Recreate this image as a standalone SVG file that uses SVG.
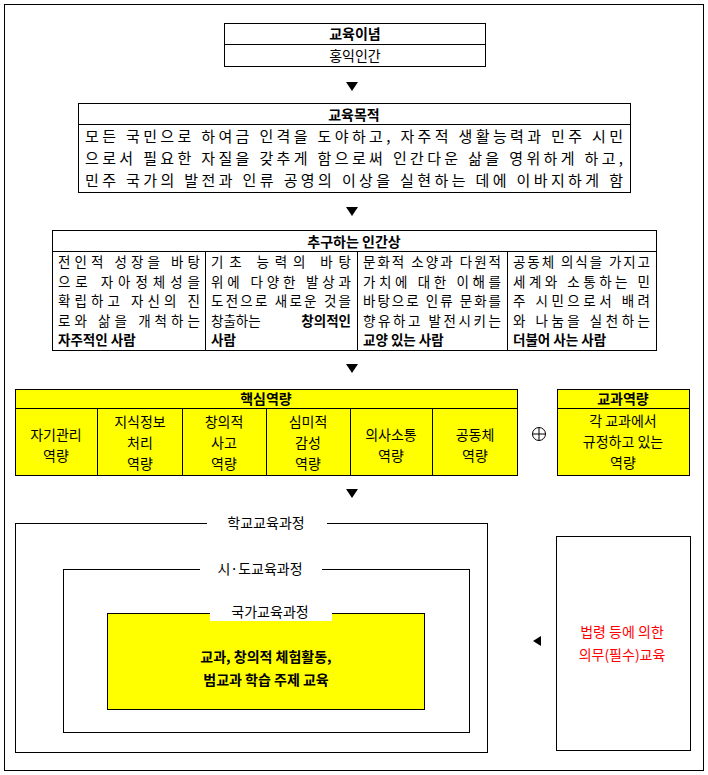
<svg xmlns="http://www.w3.org/2000/svg" width="708" height="775" viewBox="0 0 708 775">
<style>
text{font-family:"Noto Sans CJK KR","Noto Sans",sans-serif;font-size:14px;fill:#000}
.b{font-weight:bold}
.c{text-anchor:middle}
.s{font-size:13.5px}
.box{fill:#fff;stroke:#000;stroke-width:1}
.y{fill:#ffff00;stroke:#000;stroke-width:1}
.ln{stroke:#000;stroke-width:1}
</style>
<rect x="4.5" y="4.5" width="699" height="766" fill="none" stroke="#000"/>
<g id="ideal">
<rect class="box" x="224.5" y="23.5" width="261" height="43"/>
<line class="ln" x1="224" y1="44.5" x2="485" y2="44.5"/>
<text class="c b" x="355" y="39">교육이념</text>
<text class="c" x="355" y="61">홍익인간</text>
</g>
<g id="purpose">
<rect class="box" x="78.5" y="103.5" width="552" height="89"/>
<line class="ln" x1="78" y1="124.5" x2="630" y2="124.5"/>
<text class="c b" x="354" y="120">교육목적</text>
<text x="85" y="142" style="font-size:15px" textLength="538" lengthAdjust="spacing">모든 국민으로 하여금 인격을 도야하고, 자주적 생활능력과 민주 시민</text>
<text x="85" y="164" style="font-size:15px" textLength="538" lengthAdjust="spacing">으로서 필요한 자질을 갖추게 함으로써 인간다운 삶을 영위하게 하고,</text>
<text x="85" y="186" style="font-size:15px" textLength="538" lengthAdjust="spacing">민주 국가의 발전과 인류 공영의 이상을 실현하는 데에 이바지하게 함</text>
</g>
<g id="human">
<rect class="box" x="52.5" y="230.5" width="604" height="120"/>
<line class="ln" x1="52" y1="251.5" x2="656" y2="251.5"/>
<line class="ln" x1="205.5" y1="251" x2="205.5" y2="350"/>
<line class="ln" x1="357.5" y1="251" x2="357.5" y2="350"/>
<line class="ln" x1="507.5" y1="251" x2="507.5" y2="350"/>
<text class="c b" x="354" y="247">추구하는 인간상</text>
<text class="s" x="58" y="267" textLength="142">전인적 성장을 바탕</text>
<text class="s" x="58" y="286.5" textLength="142">으로 자아정체성을</text>
<text class="s" x="58" y="306" textLength="142">확립하고 자신의 진</text>
<text class="s" x="58" y="325.5" textLength="142">로와 삶을 개척하는</text>
<text class="s b" x="58" y="345">자주적인 사람</text>
<text class="s" x="211" y="267" textLength="140">기초 능력의 바탕</text>
<text class="s" x="211" y="286.5" textLength="140">위에 다양한 발상과</text>
<text class="s" x="211" y="306" textLength="140">도전으로 새로운 것을</text>
<text class="s" x="211" y="325.5">창출하는</text>
<text class="s b" x="351" y="325.5" text-anchor="end">창의적인</text>
<text class="s b" x="211" y="345">사람</text>
<text class="s" x="363" y="267" textLength="138">문화적 소양과 다원적</text>
<text class="s" x="363" y="286.5" textLength="138">가치에 대한 이해를</text>
<text class="s" x="363" y="306" textLength="138">바탕으로 인류 문화를</text>
<text class="s" x="363" y="325.5" textLength="138">향유하고 발전시키는</text>
<text class="s b" x="363" y="345">교양 있는 사람</text>
<text class="s" x="513" y="267" textLength="137">공동체 의식을 가지고</text>
<text class="s" x="513" y="286.5" textLength="137">세계와 소통하는 민</text>
<text class="s" x="513" y="306" textLength="137">주 시민으로서 배려</text>
<text class="s" x="513" y="325.5" textLength="137">와 나눔을 실천하는</text>
<text class="s b" x="513" y="345">더불어 사는 사람</text>
</g>
<g id="core">
<rect class="y" x="15.5" y="389.5" width="502" height="86"/>
<line class="ln" x1="15" y1="408.5" x2="517" y2="408.5"/>
<line class="ln" x1="97.5" y1="408" x2="97.5" y2="475"/>
<line class="ln" x1="182.5" y1="408" x2="182.5" y2="475"/>
<line class="ln" x1="266.5" y1="408" x2="266.5" y2="475"/>
<line class="ln" x1="350.5" y1="408" x2="350.5" y2="475"/>
<line class="ln" x1="432.5" y1="408" x2="432.5" y2="475"/>
<text class="c b" x="266" y="404">핵심역량</text>
<text class="c" x="56" y="440">자기관리</text><text class="c" x="56" y="461">역량</text>
<text class="c" x="140" y="427">지식정보</text><text class="c" x="140" y="448">처리</text><text class="c" x="140" y="469">역량</text>
<text class="c" x="224" y="427">창의적</text><text class="c" x="224" y="448">사고</text><text class="c" x="224" y="469">역량</text>
<text class="c" x="308" y="427">심미적</text><text class="c" x="308" y="448">감성</text><text class="c" x="308" y="469">역량</text>
<text class="c" x="391" y="440">의사소통</text><text class="c" x="391" y="461">역량</text>
<text class="c" x="475" y="440">공동체</text><text class="c" x="475" y="461">역량</text>
</g>
<g id="plus">
<circle cx="539" cy="434" r="6.5" fill="none" stroke="#000"/>
<line class="ln" x1="532.5" y1="434" x2="545.5" y2="434"/>
<line class="ln" x1="539" y1="427.5" x2="539" y2="440.5"/>
</g>
<g id="subject">
<rect class="y" x="557.5" y="389.5" width="132" height="86"/>
<line class="ln" x1="557" y1="408.5" x2="689" y2="408.5"/>
<text class="c b" x="623" y="404">교과역량</text>
<text class="c" x="623" y="426">각 교과에서</text>
<text class="c" x="623" y="447">규정하고 있는</text>
<text class="c" x="623" y="468">역량</text>
</g>
<g id="school">
<rect class="box" x="15.5" y="523.5" width="472" height="229"/>
<rect x="207" y="514" width="120" height="18" fill="#fff"/>
<text class="c" x="266" y="528">학교교육과정</text>
</g>
<g id="sido">
<rect class="box" x="63.5" y="569.5" width="406" height="163"/>
<rect x="200" y="560" width="122" height="18" fill="#fff"/>
<text class="c" x="260" y="574">시·도교육과정</text>
</g>
<g id="national">
<rect class="y" x="107.5" y="613.5" width="317" height="96"/>
<rect x="210" y="603" width="122" height="18" fill="#fff"/>
<text class="c" x="270" y="617">국가교육과정</text>
<text class="c b" x="266" y="662">교과, 창의적 체험활동,</text>
<text class="c b" x="266" y="685">범교과 학습 주제 교육</text>
</g>
<g id="law">
<rect class="box" x="556.5" y="536.5" width="134" height="214"/>
<text class="c" x="622" y="637" style="fill:#ff0000">법령 등에 의한</text>
<text class="c" x="622" y="660" style="fill:#ff0000">의무(필수)교육</text>
</g>
<g id="connectors">
<polygon points="346,82 358,82 352,91"/>
<polygon points="346,207 358,207 352,216"/>
<polygon points="346,364 358,364 352,373"/>
<polygon points="346,489 358,489 352,498"/>
<polygon points="541,636 541,646 533,641"/>
</g>
</svg>
